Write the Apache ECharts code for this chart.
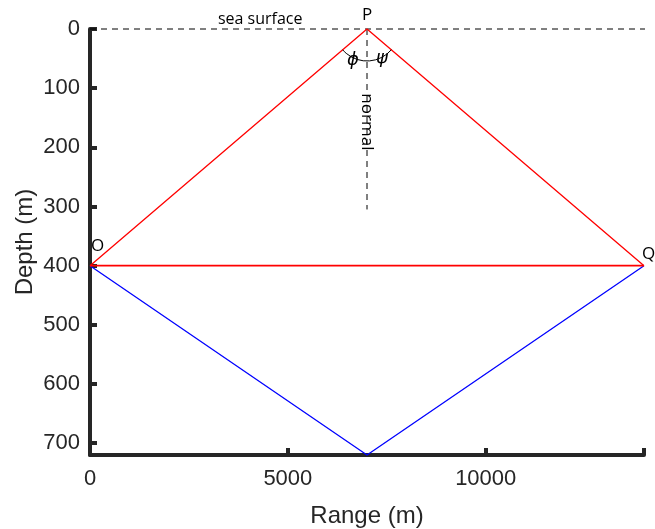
<!DOCTYPE html>
<html>
<head>
<meta charset="utf-8">
<script src="https://cdn.jsdelivr.net/npm/echarts@6/dist/echarts.min.js"></script>
<style>
  html, body { margin: 0; padding: 0; background: #fff; }
  #main { width: 655px; height: 529px; }
</style>
</head>
<body>
<div id="main"></div>
<script>
// 数据
var rangeX = [0, 7000, 14000];
var reflectDepth = [400, 0, 400];     // O -> P -> Q (surface reflection)
var directDepth = [400, 400];         // O -> Q
var bottomDepth = [400, 720, 400];    // O -> bottom -> Q
var surfaceX = [0, 14400];
var surfaceDepth = [0, 0];
var normalX = 7000;
var normalDepth = [0, 305];
var yTicks = [0, 100, 200, 300, 400, 500, 600, 700];
var xTicks = [0, 5000, 10000];

// 注释
var notes = [
  { name: 'P', value: [7000, 0], pos: 'top', off: [0, 0], size: 17 },
  { name: 'O', value: [0, 400], pos: 'right', off: [-4, -20], size: 17 },
  { name: 'Q', value: [14000, 400], pos: 'right', off: [-7, -12], size: 17 },
  { name: 'sea surface', value: [4300, 0], pos: 'top', off: [0, 3], size: 16 }
];

var chart = echarts.init(document.getElementById('main'));

var axisColor = '#262626';

function pairs(xs, ys) {
  var out = [];
  for (var i = 0; i < ys.length; i++) out.push([xs[i], ys[i]]);
  return out;
}

function noteLabel(size, extra) {
  var l = { show: true, formatter: '{b}', fontSize: size, color: '#000', opacity: 1,
    fontWeight: 'normal', fontFamily: 'Open Sans', textBorderWidth: 0 };
  for (var k in extra) l[k] = extra[k];
  return l;
}

var option = {
  animation: false,
  backgroundColor: '#fff',
  grid: { left: 90, right: 11, top: 29, bottom: 74, outerBoundsMode: 'none', containLabel: false },
  xAxis: {
    type: 'value',
    min: 0, max: 14000, interval: 5000,
    name: 'Range (m)', nameLocation: 'middle', nameGap: 49,
    nameTextStyle: { fontSize: 24, color: axisColor, fontFamily: 'Liberation Sans' },
    axisLine: { onZero: false, lineStyle: { color: axisColor, width: 4 } },
    axisTick: { inside: true, length: 7, lineStyle: { color: axisColor, width: 4 } },
    axisLabel: { fontSize: 22, color: axisColor, margin: 13, fontFamily: 'Liberation Sans',
      formatter: function (v) { return xTicks.indexOf(v) >= 0 ? String(v) : ''; } },
    splitLine: { show: false }
  },
  yAxis: {
    type: 'value', inverse: true,
    min: 0, max: 720, interval: 100,
    name: 'Depth (m)', nameLocation: 'middle', nameGap: 53, nameMoveOverlap: false,
    nameTextStyle: { fontSize: 24, color: axisColor, fontFamily: 'Liberation Sans' },
    axisLine: { onZero: false, lineStyle: { color: axisColor, width: 4 } },
    axisTick: { inside: true, length: 7, lineStyle: { color: axisColor, width: 4 } },
    axisLabel: { fontSize: 22, color: axisColor, margin: 10, fontFamily: 'Liberation Sans', showMaxLabel: false,
      formatter: function (v) { return yTicks.indexOf(v) >= 0 ? String(v) : ''; } },
    splitLine: { show: false }
  },
  series: [
    {
      type: 'line', data: pairs(surfaceX, surfaceDepth), symbol: 'none', clip: false,
      lineStyle: { color: '#000', width: 1, type: [6, 5] }, z: 1
    },
    {
      type: 'line', data: pairs([normalX, normalX], normalDepth), symbol: 'none',
      lineStyle: { color: '#000', width: 1, type: [6, 5] }, z: 1
    },
    {
      type: 'line', data: pairs(rangeX, reflectDepth), symbol: 'none', clip: false,
      lineStyle: { color: '#ff0000', width: 1.3 }, z: 3
    },
    {
      type: 'line', data: pairs([rangeX[0], rangeX[2]], directDepth), symbol: 'none', clip: false,
      lineStyle: { color: '#ff0000', width: 1.6 }, z: 3
    },
    {
      type: 'line', data: pairs(rangeX, bottomDepth), symbol: 'none', clip: false,
      lineStyle: { color: '#0000ff', width: 1.3 }, z: 2
    },
    {
      type: 'scatter', symbolSize: 0, clip: false, z: 5,
      itemStyle: { opacity: 1 },
      data: notes.map(function (n) {
        return {
          name: n.name, value: n.value,
          label: noteLabel(n.size, { position: n.pos, offset: n.off })
        };
      })
    },
    {
      // normal 标签
      type: 'scatter', symbolSize: 0, z: 5,
      data: [{ name: 'normal', value: [normalX, 157] }],
      label: noteLabel(17, { position: 'inside', rotate: -90 })
    },
    {
      // 角度弧线
      type: 'custom', z: 6, clip: false,
      data: [[rangeX[1], reflectDepth[1]]],
      renderItem: function (params, api) {
        var p = api.coord([rangeX[1], reflectDepth[1]]);
        var o = api.coord([rangeX[0], reflectDepth[0]]);
        var q = api.coord([rangeX[2], reflectDepth[2]]);
        var aL = Math.atan2(o[1] - p[1], o[0] - p[0]);
        var aR = Math.atan2(q[1] - p[1], q[0] - p[0]);
        var r = 32;
        return {
          type: 'group',
          children: [
            { type: 'arc', shape: { cx: p[0], cy: p[1], r: r, startAngle: aR, endAngle: aL },
              style: { stroke: '#000', fill: null, lineWidth: 1 } },
            { type: 'text', x: p[0] - 14, y: p[1] + 31,
              style: { text: '\u03d5', fontSize: 18, fill: '#000', align: 'center', verticalAlign: 'middle', fontFamily: 'DejaVu Sans', fontStyle: 'italic' } },
            { type: 'text', x: p[0] + 15, y: p[1] + 29,
              style: { text: '\u03c8', fontSize: 18, fill: '#000', align: 'center', verticalAlign: 'middle', fontFamily: 'DejaVu Sans', fontStyle: 'italic' } }
          ]
        };
      }
    }
  ]
};

chart.setOption(option);
</script>
</body>
</html>
